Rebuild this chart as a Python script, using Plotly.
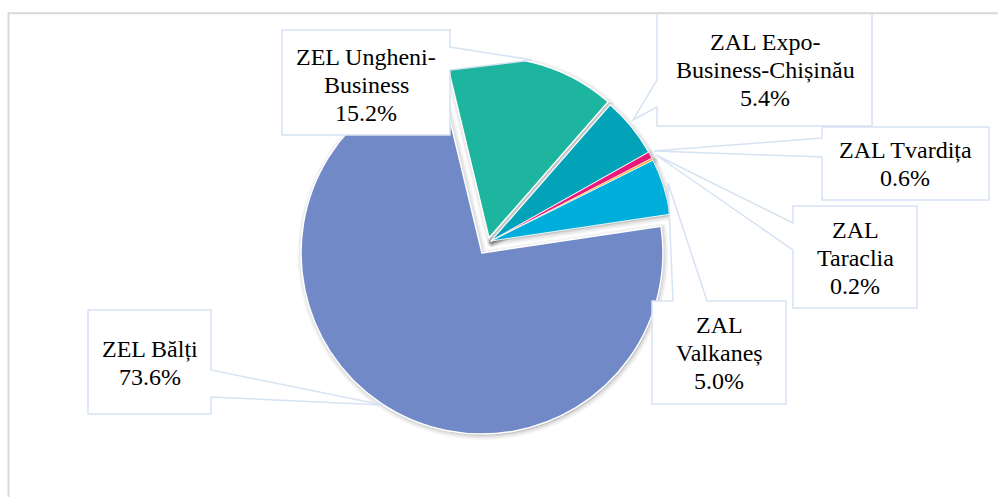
import plotly.graph_objects as go

W, H = 998, 497

# ---- data ----
labels = ["ZEL Bălți", "ZEL Ungheni-Business", "ZAL Expo-Business-Chișinău",
          "ZAL Tvardița", "ZAL Taraclia", "ZAL Valkaneș"]
values = [73.6, 15.2, 5.4, 0.6, 0.2, 5.0]
label_lines = [["ZEL Bălți"], ["ZEL Ungheni-", "Business"], ["ZAL Expo-", "Business-Chișinău"],
               ["ZAL Tvardița"], ["ZAL", "Taraclia"], ["ZAL", "Valkaneș"]]

# ---- styles / layout ----
colors = ["#7289C8", "#1DB5A0", "#02A2B8", "#E8197B", "#F7A823", "#00AEDC"]
border_w = [1.5, 1.5, 1.1, 0.7, 0.6, 0.9]
R = 181
ROT = 81.5
# exploded groups: slice indices and pixel centre of each group
groups = [([0], (482, 253)), ([1], (489, 238)), ([2, 3, 4, 5], (491, 241))]

# label callouts (pixel polygons: box with pointer) and text placement (centre x, first baseline)
callouts = [
    [(88, 310), (211, 310), (211, 370), (383, 405), (211, 397), (211, 414), (88, 414)],
    [(282, 30), (450, 30), (450, 47), (532, 60), (450, 70), (450, 135), (282, 135)],
    [(657, 13), (872, 13), (872, 126), (657, 126), (657, 107), (633, 120), (657, 80)],
    [(822, 127), (989, 127), (989, 200), (822, 200), (822, 157), (654, 151), (822, 138)],
    [(793, 206), (917, 206), (917, 308), (793, 308), (793, 250), (656, 155), (793, 223)],
    [(652, 301), (673, 301), (668, 183), (707, 301), (786, 301), (786, 404), (652, 404)],
]
text_pos = [(150, 357), (366, 65), (765, 50), (905, 158), (855, 238), (719, 333)]
LINE_H = 28
FONT = "'Liberation Serif', 'Times New Roman', Tinos, serif"


def px(x):
    return x / W


def py(y):
    return 1 - y / H


def pie_trace(idx, center, r, fill, line_color, line_width):
    cx, cy = center
    n = len(values)
    if fill == "own":
        mcolors = [colors[i] if i in idx else "rgba(0,0,0,0)" for i in range(n)]
        lwidths = [border_w[i] if i in idx else 0 for i in range(n)]
    else:
        mcolors = [fill if i in idx else "rgba(0,0,0,0)" for i in range(n)]
        lwidths = [line_width if i in idx else 0 for i in range(n)]
    return go.Pie(
        labels=labels, values=values, sort=False, direction="clockwise", rotation=ROT,
        domain=dict(x=[px(cx - r), px(cx + r)], y=[py(cy + r), py(cy - r)]),
        marker=dict(colors=mcolors, line=dict(color=line_color, width=lwidths)),
        textinfo="none", hoverinfo="skip", showlegend=False,
    )


fig = go.Figure()

# soft shadows
for idx, (cx, cy) in groups:
    for w, a in [(9, 0.035), (6, 0.045), (3, 0.06)]:
        fig.add_trace(pie_trace(idx, (cx + 1, cy + 1.5), R, f"rgba(0,0,0,{a})",
                                f"rgba(0,0,0,{a})", w))
# coloured slices
for idx, (cx, cy) in groups:
    fig.add_trace(pie_trace(idx, (cx, cy), R, "own", "white", None))

shapes = []
for pts in callouts:
    d = "M " + " L ".join(f"{px(x):.5f},{py(y):.5f}" for x, y in pts) + " Z"
    shapes.append(dict(type="path", path=d, xref="paper", yref="paper",
                       fillcolor="white", line=dict(color="#D6E3F3", width=1.5), layer="above"))
# chart frame
shapes.append(dict(type="rect", xref="paper", yref="paper", x0=px(8.5), y0=py(13.3),
                   x1=px(1010), y1=py(520), line=dict(color="#D9D9D9", width=2),
                   fillcolor="rgba(0,0,0,0)", layer="above"))

annotations = []
for i, (cx, base) in enumerate(text_pos):
    lines = label_lines[i] + [f"{values[i]:.1f}%"]
    for k, t in enumerate(lines):
        annotations.append(dict(text=t, x=px(cx), y=py(base + k * LINE_H - 8),
                                xref="paper", yref="paper", xanchor="center", yanchor="middle",
                                showarrow=False, font=dict(family=FONT, size=24, color="#000000")))

fig.update_layout(width=W, height=H, margin=dict(l=0, r=0, t=0, b=0),
                  paper_bgcolor="white", plot_bgcolor="white",
                  font=dict(family=FONT),
                  shapes=shapes, annotations=annotations, showlegend=False)

fig.write_html("out.html", config={"displayModeBar": False},
               post_script="document.body.style.margin='0';document.body.style.overflow='hidden';")
